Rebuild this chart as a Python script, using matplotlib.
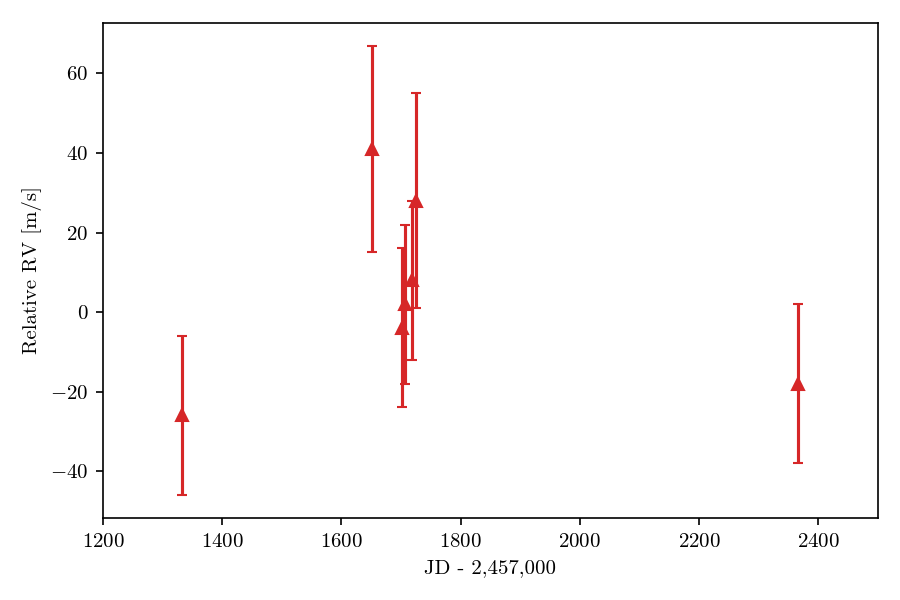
import matplotlib
matplotlib.use("Agg")
import matplotlib.pyplot as plt

# RV data
jd = [1333, 1651, 1702, 1706, 1718, 1725, 2366]
rv = [-26, 41, -4, 2, 8, 28, -18]
rv_err = [20, 26, 20, 20, 20, 27, 20]

plt.rcParams['font.family'] = 'serif'
plt.rcParams['font.serif'] = ['cmr10']
plt.rcParams['mathtext.fontset'] = 'cm'
plt.rcParams['axes.formatter.use_mathtext'] = True
plt.rcParams['font.size'] = 10

fig = plt.figure(figsize=(6, 4), dpi=150)
ax = fig.add_axes([0.1144, 0.1367, 0.8612, 0.825])
ax.errorbar(jd, rv, yerr=rv_err, fmt='^', color='tab:red', markersize=6,
            capsize=2.5, elinewidth=1.5, capthick=1)
ax.set_xlim(1200, 2500)
ax.set_ylim(-51.8, 72.7)
ax.set_xlabel("JD - 2,457,000")
ax.set_ylabel("Relative RV [m/s]")
fig.savefig("out.png", dpi=150)
